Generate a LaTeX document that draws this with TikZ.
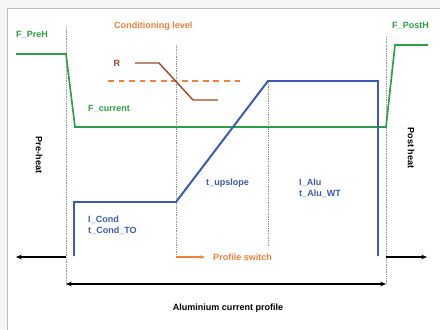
\documentclass[tikz,border=0pt]{standalone}
\usepackage{fontspec}
\setmainfont{Liberation Sans}
\usetikzlibrary{arrows.meta,positioning}
\definecolor{cGreen}{RGB}{46,158,70}
\definecolor{cBlue}{RGB}{58,92,176}
\definecolor{cOrange}{RGB}{240,128,60}
\definecolor{cBrown}{RGB}{155,74,42}
\definecolor{cFrame}{RGB}{190,190,190}
\tikzset{
  lbl/.style={font=\fontsize{7.7}{8.7}\selectfont\bfseries,inner sep=0pt},
  greenlbl/.style={lbl,text=cGreen,anchor=west},
  bluelbl/.style={lbl,text=cBlue,anchor=west,align=left},
  orangelbl/.style={lbl,text=cOrange,anchor=west},
  guide/.style={densely dotted,gray!85,line width=0.5pt},
  fcurve/.style={cGreen,line width=1.4pt},
  icurve/.style={cBlue,line width=1.7pt},
  rcurve/.style={cBrown,line width=1.2pt},
  arr/.style={-{Stealth[length=5pt,width=4pt]},line width=1.3pt,black},
  dblarr/.style={{Stealth[length=5pt,width=4pt]}-{Stealth[length=5pt,width=4pt]},line width=1.1pt,black},
  orarr/.style={-{Stealth[length=4pt,width=3pt]},line width=0.9pt,cOrange}
}

\begin{document}
\begin{tikzpicture}[x=0.03cm,y=0.03cm]
  \useasboundingbox (0,0) rectangle (440,329);
  % panel with grey outline
  \fill[gray!8] (0,0) rectangle (440,329);
  \fill[white,draw=cFrame,line width=0.8pt] (7,-5) rectangle (450,321);

  % phase boundaries
  \coordinate (preS) at (66,302);  \coordinate (preE) at (66,45);
  \coordinate (swS) at (176,284);  \coordinate (swE) at (176,74);
  \coordinate (upS) at (268,247);  \coordinate (upE) at (268,82);
  \coordinate (postS) at (386,292); \coordinate (postE) at (386,45);
  \draw[guide] (preS) -- (preE);
  \draw[guide] (swS) -- (swE);
  \draw[guide] (upS) -- (upE);
  \draw[guide] (postS) -- (postE);

  % gas flow
  \coordinate (f0) at (16,275);
  \coordinate (f1) at (66,275);
  \coordinate (f2) at (75,202);
  \coordinate (f3) at (386,202);
  \coordinate (f4) at (395,284);
  \coordinate (f5) at (428,284);
  \draw[fcurve] (f0) -- (f1) -- (f2) -- (f3) -- (f4) -- (f5);

  % conditioning level and ramp
  \coordinate (c0) at (108,248);
  \coordinate (c1) at (240,248);
  \draw[cOrange,line width=1.1pt,dash pattern=on 5pt off 4pt] (c0) -- (c1);
  \coordinate (r0) at (135,266);
  \coordinate (r1) at (159,266);
  \coordinate (r2) at (193,229);
  \coordinate (r3) at (218,229);
  \draw[rcurve] (r0) -- (r1) -- (r2) -- (r3);

  % current profile
  \coordinate (i0) at (74,73);
  \coordinate (i1) at (74,127);
  \coordinate (i2) at (176,127);
  \coordinate (i3) at (268,248);
  \coordinate (i4) at (378,248);
  \coordinate (i5) at (378,73);
  \draw[icurve] (i0) -- (i1) -- (i2) -- (i3) -- (i4) -- (i5);

  % labels
  \node[greenlbl] (preh) at (16,294) {F\_PreH};
  \node[greenlbl] (fcur) at (88,220) {F\_current};
  \node[greenlbl] (posth) at (392,303) {F\_PostH};
  \node[orangelbl] (cond) at (114,303) {Conditioning level};
  \node[lbl,text=cBrown] (rlbl) at (117,266) {R};
  \node[bluelbl] (icond) at (88,104) {I\_Cond\\[1pt]t\_Cond\_TO};
  \node[bluelbl] (upsl) at (206,146) {t\_upslope};
  \node[bluelbl] (ialu) at (299,141) {I\_Alu\\[1pt]t\_Alu\_WT};
  \node[lbl,rotate=-90] (pre) at (39,174) {Pre-heat};
  \node[lbl,rotate=-90] (post) at (411,181) {Post heat};

  % phase arrows
  \coordinate (la) at (16,72);
  \coordinate (ra) at (427,72);
  \coordinate (la0) at (66,72);
  \coordinate (ra0) at (386,72);
  \draw[arr] (la0) -- (la);
  \draw[arr] (ra0) -- (ra);
  \coordinate (ps0) at (176,72);
  \coordinate (ps1) at (205,72);
  \node[orangelbl] (psw) at (213,72) {Profile switch};
  \draw[orarr] (ps0) -- (ps1);
  \coordinate (al0) at (66,45);
  \coordinate (al1) at (386,45);
  \draw[dblarr] (al0) -- (al1);
  \node[lbl] (alu) at (228,21) {Aluminium current profile};
\end{tikzpicture}
\end{document}
